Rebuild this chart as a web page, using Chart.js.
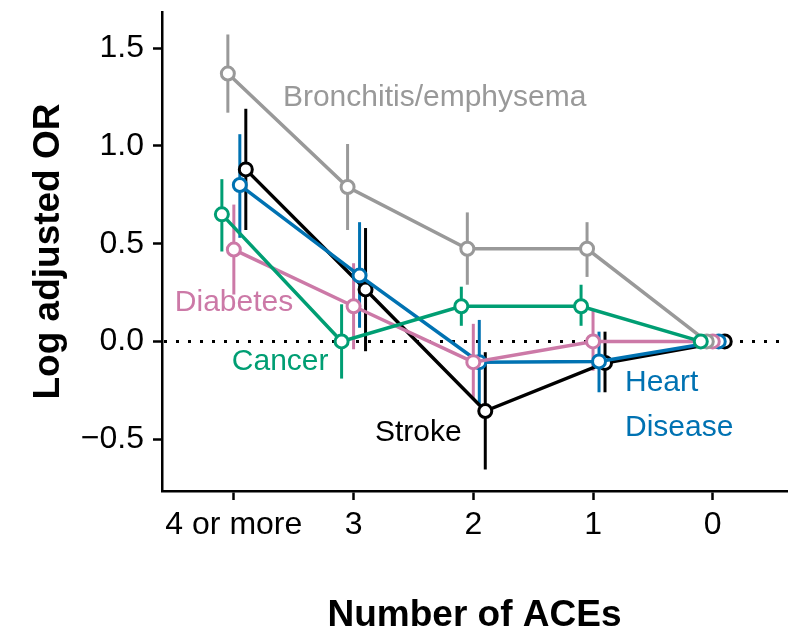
<!DOCTYPE html>
<html><head><meta charset="utf-8">
<script src="https://cdn.jsdelivr.net/npm/chart.js@4"></script>
<style>html,body{margin:0;padding:0;background:#fff;}</style>
</head><body>
<canvas id="c" width="801" height="642"></canvas>
<script>
// ---- data ----
const categories = ["4 or more", "3", "2", "1", "0"];
const yTickValues = [-0.5, 0, 0.5, 1.0, 1.5];
const seriesNames = ["Cancer", "Bronchitis/emphysema", "Diabetes", "Heart Disease", "Stroke"];

const cancer      = [0.65, 0.00, 0.18, 0.18, 0];
const cancerLo    = [0.46, -0.19, 0.08, 0.08, 0];
const cancerHi    = [0.83, 0.19, 0.28, 0.29, 0];

const bronchitis   = [1.37, 0.79, 0.474, 0.474, 0];
const bronchitisLo = [1.17, 0.57, 0.29, 0.33, 0];
const bronchitisHi = [1.57, 1.01, 0.66, 0.61, 0];

const diabetes   = [0.47, 0.18, -0.106, 0.00, 0];
const diabetesLo = [0.24, -0.04, -0.30, -0.15, 0];
const diabetesHi = [0.70, 0.40, 0.09, 0.16, 0];

const heart   = [0.80, 0.337, -0.106, -0.102, 0];
const heartLo = [0.53, 0.07, -0.32, -0.26, 0];
const heartHi = [1.06, 0.61, 0.11, 0.05, 0];

const stroke   = [0.88, 0.266, -0.356, -0.11, 0];
const strokeLo = [0.57, -0.05, -0.655, -0.26, 0];
const strokeHi = [1.19, 0.58, -0.055, 0.05, 0];

// ---- styling / layout (not data) ----
const colors = ["#009E73", "#999999", "#CC79A7", "#0072B2", "#000000"];
const dodge = [-0.1, -0.05, 0, 0.05, 0.1];
const values = [cancer, bronchitis, diabetes, heart, stroke];
const lows = [cancerLo, bronchitisLo, diabetesLo, heartLo, strokeLo];
const highs = [cancerHi, bronchitisHi, diabetesHi, heartHi, strokeHi];

const annotations = [
  {text: "Bronchitis/emphysema", x: 0.41, y: 1.247, color: colors[1]},
  {text: "Diabetes", x: -0.493, y: 0.20, color: colors[2]},
  {text: "Cancer", x: -0.017, y: -0.102, color: colors[0]},
  {text: "Stroke", x: 1.178, y: -0.465, color: colors[4]},
  {text: "Heart", x: 3.267, y: -0.21, color: colors[3]},
  {text: "Disease", x: 3.267, y: -0.44, color: colors[3]}
];

const FONT = "'Liberation Sans', Arial, Helvetica, sans-serif";

const datasets = seriesNames.map((name, d) => ({
  label: name,
  data: values[d].map((v, i) => ({x: i + dodge[d], y: v})),
  borderColor: colors[d],
  backgroundColor: "#ffffff",
  borderWidth: 3.5,
  pointRadius: 6.5,
  pointBorderWidth: 3,
  pointBackgroundColor: "#ffffff",
  pointBorderColor: colors[d],
  tension: 0,
  fill: false
}));

const extras = {
  id: "extras",
  beforeDatasetsDraw(chart) {
    const {ctx, chartArea, scales: {x, y}} = chart;
    ctx.save();
    ctx.strokeStyle = "#000";
    ctx.lineWidth = 3;
    ctx.setLineDash([3, 9]);
    const y0 = y.getPixelForValue(0);
    ctx.beginPath();
    ctx.moveTo(chartArea.left + 2, y0);
    ctx.lineTo(chartArea.right, y0);
    ctx.stroke();
    ctx.setLineDash([]);
    ctx.lineWidth = 3;
    for (let d = seriesNames.length - 1; d >= 0; d--) {
      ctx.strokeStyle = colors[d];
      for (let i = 0; i < categories.length; i++) {
        if (lows[d][i] === highs[d][i]) continue;
        const px = x.getPixelForValue(i + dodge[d]);
        ctx.beginPath();
        ctx.moveTo(px, y.getPixelForValue(lows[d][i]));
        ctx.lineTo(px, y.getPixelForValue(highs[d][i]));
        ctx.stroke();
      }
    }
    ctx.restore();
  },
  afterDatasetsDraw(chart) {
    const {ctx, scales: {x, y}} = chart;
    ctx.save();
    ctx.font = "30px " + FONT;
    ctx.textAlign = "left";
    ctx.textBaseline = "middle";
    annotations.forEach(a => {
      ctx.fillStyle = a.color;
      ctx.fillText(a.text, x.getPixelForValue(a.x), y.getPixelForValue(a.y));
    });
    ctx.restore();
  }
};

new Chart(document.getElementById("c"), {
  type: "line",
  data: {datasets},
  plugins: [extras],
  options: {
    responsive: false,
    devicePixelRatio: 1,
    animation: false,
    layout: {padding: {top: 12, right: 14, left: 0, bottom: 0}},
    plugins: {legend: {display: false}, tooltip: {enabled: false}},
    scales: {
      x: {
        type: "linear",
        min: -0.6,
        max: 4.62,
        afterBuildTicks(s) { s.ticks = categories.map((c, i) => ({value: i})); },
        afterFit(s) { s.height = 151; s.paddingLeft = 0; s.paddingRight = 0; },
        ticks: {
          callback: v => categories[v],
          color: "#000",
          font: {family: FONT, size: 32},
          padding: 6,
          maxRotation: 0,
          autoSkip: false
        },
        grid: {drawOnChartArea: false, drawTicks: true, tickLength: 9, tickWidth: 2.5, tickColor: "#000"},
        border: {display: true, color: "#000", width: 2.5},
        title: {
          display: true,
          text: "Number of ACEs",
          color: "#000",
          font: {family: FONT, size: 37, weight: "bold", lineHeight: 1},
          padding: {top: 0, bottom: 8}
        }
      },
      y: {
        type: "linear",
        min: -0.765,
        max: 1.685,
        afterBuildTicks(s) { s.ticks = yTickValues.map(v => ({value: v})); },
        afterFit(s) { s.width = 162; s.paddingTop = 0; s.paddingBottom = 0; },
        ticks: {
          callback: v => (v < 0 ? "\u2212" : "") + Math.abs(v).toFixed(1),
          color: "#000",
          font: {family: FONT, size: 32},
          padding: 9
        },
        grid: {drawOnChartArea: false, drawTicks: true, tickLength: 9, tickWidth: 2.5, tickColor: "#000"},
        border: {display: true, color: "#000", width: 2.5},
        title: {
          display: true,
          text: "Log adjusted OR",
          color: "#000",
          font: {family: FONT, size: 37, weight: "bold", lineHeight: 1},
          padding: {top: 30, bottom: 0}
        }
      }
    }
  }
});
</script>
</body></html>
